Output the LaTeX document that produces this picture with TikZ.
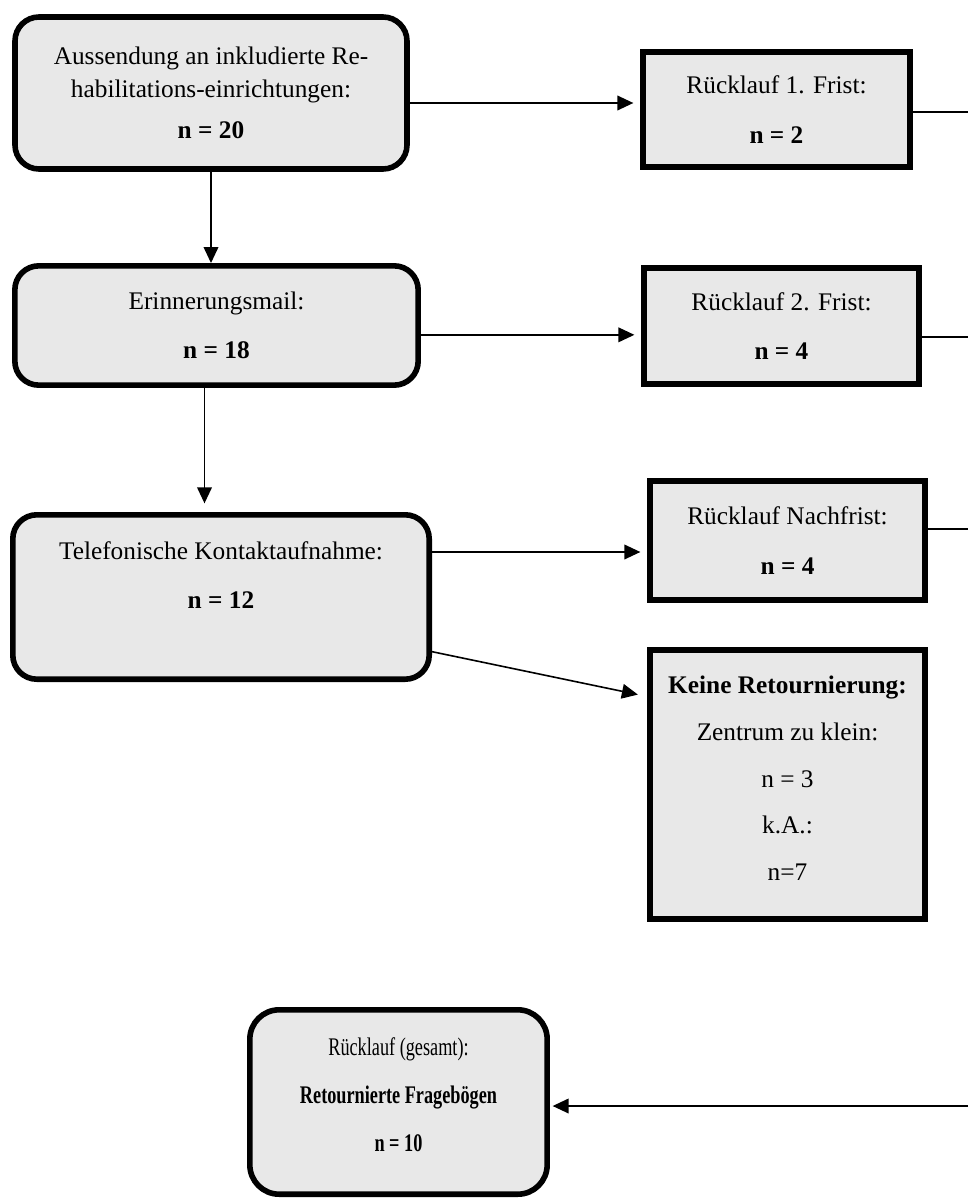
\documentclass[tikz,border=0pt]{standalone}
\usepackage{graphicx}
\usepackage{fontspec}
\setmainfont{Liberation Serif}
\usetikzlibrary{arrows.meta}
\definecolor{boxgray}{HTML}{E8E8E8}
\newcommand{\squeeze}[1]{\scalebox{0.72}[1]{#1}}

\begin{document}
\begin{tikzpicture}[x=0.75pt, y=-0.75pt, font=\fontsize{19}{25}\selectfont, rbox/.style={draw, line width=4.2pt, fill=boxgray, rounded corners=18pt, align=center, inner sep=0pt}, sbox/.style={draw, line width=4.2pt, fill=boxgray, align=center, inner sep=0pt}, link/.style={line width=1.2pt}, arr/.style={link, -{Triangle[length=12pt,width=11pt]}}]
\useasboundingbox (0,0) rectangle (968,1198);
% left column
\node[rbox, minimum width=294pt, minimum height=114pt] (send) at (211,93) {Aussendung an inkludierte Re-\\habilitations-einrichtungen:\\[6pt]\textbf{n = 20}};
\node[rbox, minimum width=302.5pt, minimum height=89.5pt] (remind) at (216.5,325.5) {Erinnerungsmail:\\[12pt]\textbf{n = 18}};
\node[rbox, minimum width=312.3pt, minimum height=123.3pt] (phone) at (221,597) {Telefonische Kontaktaufnahme:\\[12pt]\textbf{n = 12}\\[8pt]~};
% right column
\node[sbox, minimum width=200.5pt, minimum height=86.5pt] (ret1) at (776.5,109.5) {Rücklauf 1. Frist:\\[12pt]\textbf{n = 2}};
\node[sbox, minimum width=206.5pt, minimum height=87.3pt] (ret2) at (781.5,326) {Rücklauf 2. Frist:\\[12pt]\textbf{n = 4}};
\node[sbox, minimum width=206.5pt, minimum height=89.5pt] (late) at (787.5,540.5) {Rücklauf Nachfrist:\\[12pt]\textbf{n = 4}};
\node[sbox, minimum width=206.5pt, minimum height=202pt] (none) at (787.5,784.5) {\textbf{Keine Retournierung:}\\[10pt]Zentrum zu klein:\\[10pt]n = 3\\[10pt]k.A.:\\[10pt]n=7\\[-16pt]~};
% total
\node[rbox, rounded corners=22pt, minimum width=223pt, minimum height=138.3pt] (total) at (398.5,1102) {\squeeze{Rücklauf (gesamt):}\\[11pt]\squeeze{\textbf{Retournierte Fragebögen}}\\[11pt]\squeeze{\textbf{n = 10}}\\[-14pt]~};
\coordinate (out1) at (968,112); \coordinate (out2) at (968,337); \coordinate (out3) at (968,529); \coordinate (in4) at (968,1106);
% connectors
\draw[arr, shorten >=5pt] ([yshift=-7.5pt]send.east) -- ([yshift=-7.5pt]send.east -| ret1.west);
\draw[arr] (send.south) -- (send.south |- remind.north);
\draw[arr, shorten >=5pt] ([yshift=-7pt]remind.east) -- ([yshift=-7pt]remind.east -| ret2.west);
\draw[arr, shorten >=6.5pt] ([xshift=-9pt]remind.south) -- ([xshift=-9pt]remind.south |- phone.north);
\draw[arr, shorten >=5pt] ([yshift=33.75pt]phone.east) -- ([yshift=33.75pt]phone.east -| late.west);
\draw[arr, shorten >=7pt] ([yshift=-41pt]phone.east) -- ([yshift=66pt]none.west);
\draw[link] (ret1.east |- out1) -- (out1); \draw[link] (ret2.east |- out2) -- (out2); \draw[link] (late.east |- out3) -- (out3);
\draw[arr, shorten >=2pt] (in4) -- (in4 -| total.east);
\end{tikzpicture}
\end{document}
